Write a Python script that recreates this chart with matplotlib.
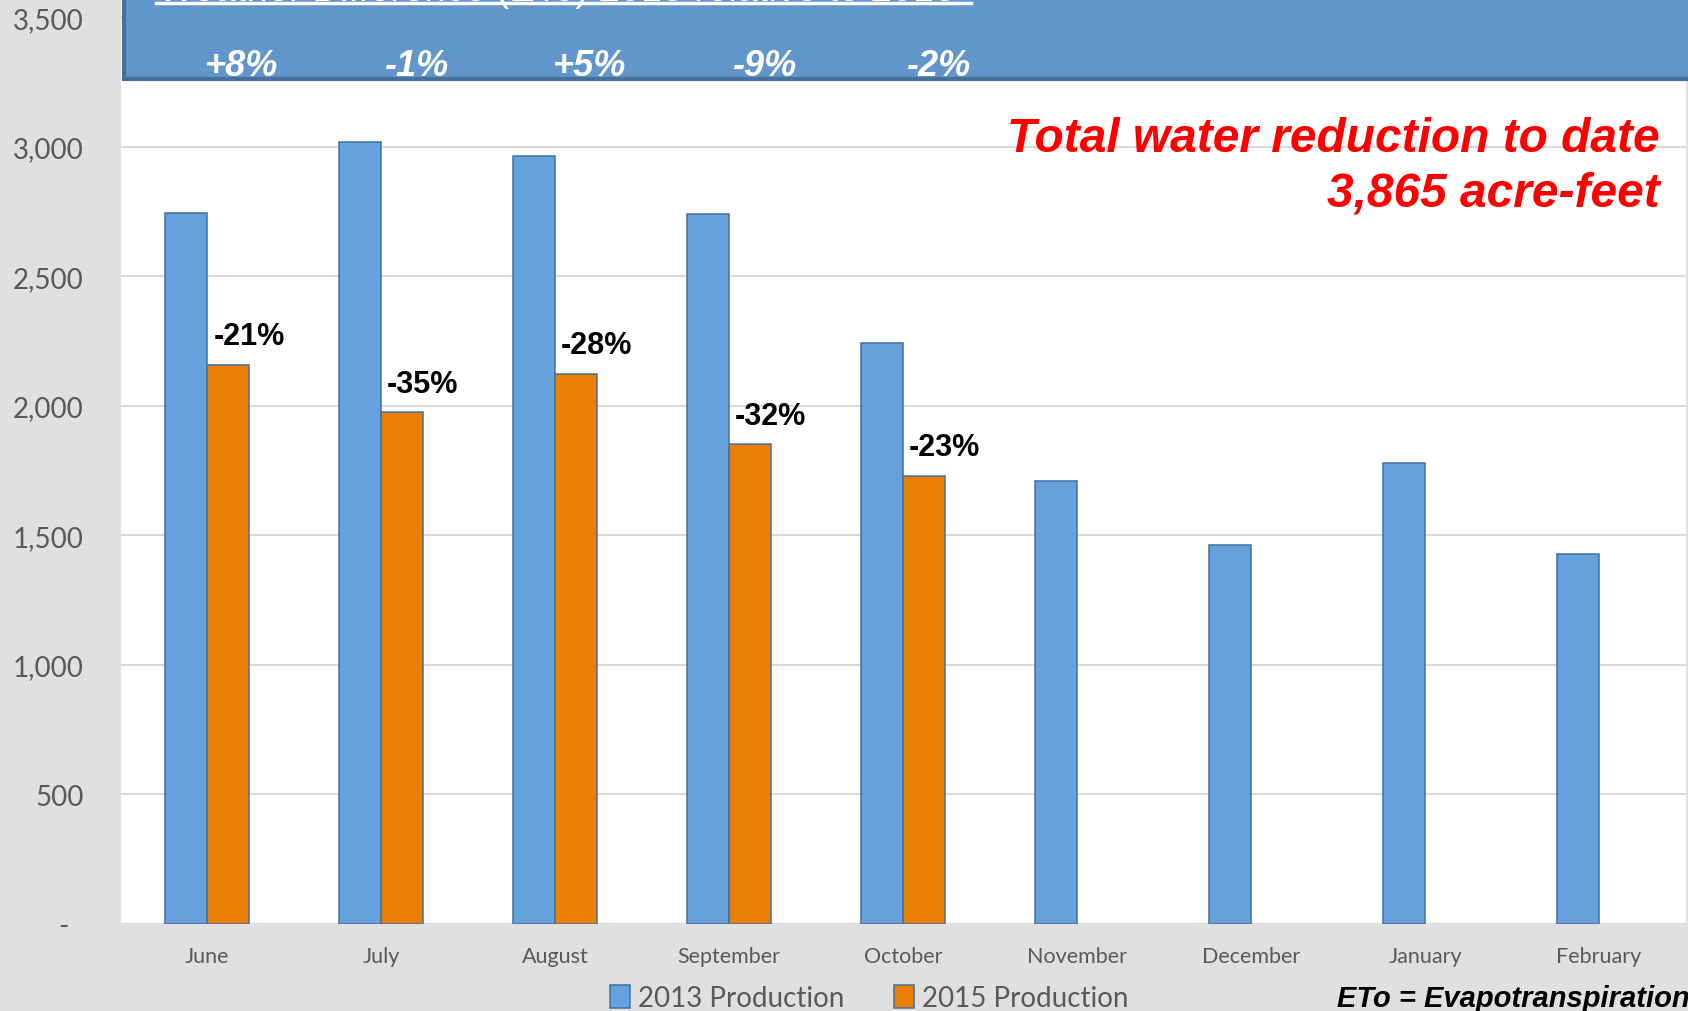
import numpy as np
import matplotlib.pyplot as plt
from matplotlib.patches import Rectangle
from matplotlib.lines import Line2D
import matplotlib.transforms as mtransforms

# data
months = ['June', 'July', 'August', 'September', 'October',
          'November', 'December', 'January', 'February']
prod_2013 = [2743, 3017, 2963, 2739, 2241, 1710, 1461, 1780, 1427]
prod_2015 = [2158, 1975, 2124, 1851, 1730]
pct_labels = ['-21%', '-35%', '-28%', '-32%', '-23%']
eto_labels = ['+8%', '-1%', '+5%', '-9%', '-2%']
yticks = [0, 500, 1000, 1500, 2000, 2500, 3000, 3500]
ytick_labels = ['-  ', '500', '1,000', '1,500', '2,000', '2,500', '3,000', '3,500']

blue = '#65A1DD'
orange = '#EA7F05'
edge = '#41719C'
bg = '#E0E0E0'

fig = plt.figure(figsize=(16.88, 10.12), dpi=100, facecolor=bg)
ax = fig.add_axes([121 / 1688, 87 / 1012, 1565 / 1688, 925 / 1012])
ax.set_facecolor('white')

x = np.arange(len(months))
w = 0.24
ax.bar(x - w / 2, prod_2013, width=w, color=blue, edgecolor=edge, linewidth=1.1,
       label='2013 Production', zorder=3)
ax.bar(x[:len(prod_2015)] + w / 2, prod_2015, width=w, color=orange, edgecolor=edge,
       linewidth=1.1, label='2015 Production', zorder=3)

# percent change labels above the 2015 bars
for i, (v, t) in enumerate(zip(prod_2015, pct_labels)):
    ax.text(i + w, v + 110, t, ha='center', va='center', fontsize=22,
            fontweight='bold', family='Liberation Sans', color='black', zorder=5)

ax.set_xlim(-0.495, 8.5)
ax.set_ylim(0, 3570)
ax.set_yticks(yticks)
ax.set_yticklabels(ytick_labels)
ax.set_xticks(x)
ax.set_xticklabels(months)
ax.tick_params(axis='y', length=0, pad=27, labelsize=20, labelcolor='#595959')
ax.tick_params(axis='x', length=0, pad=16, labelsize=15.5, labelcolor='#595959')
for lab in ax.get_xticklabels() + ax.get_yticklabels():
    lab.set_family('Lato')
ax.grid(axis='y', color='#D9D9D9', linewidth=1.5, zorder=0)
for s in ax.spines.values():
    s.set_visible(False)

# ETo banner across the top (its title runs off the top of the picture)
box = Rectangle((124 / 1688, 1 - 80 / 1012), 1.0, 0.2, transform=fig.transFigure,
                facecolor='#6096CA', edgecolor='#45709C', linewidth=3, zorder=10)
fig.add_artist(box)
fig.text(158 / 1688, 1 - 1 / 1012, 'Weather Difference (ETo) 2015 relative to 2013',
         ha='left', va='baseline', fontsize=27.5, color='white',
         family='Liberation Sans', zorder=11)
fig.add_artist(Line2D([156 / 1688, 971 / 1688], [1 - 4 / 1012, 1 - 4 / 1012],
                      transform=fig.transFigure, color='white', linewidth=2.5, zorder=11))
trans = mtransforms.blended_transform_factory(ax.transData, fig.transFigure)
for i, t in enumerate(eto_labels):
    fig.text(i + 0.2, 1 - 76 / 1012, t, transform=trans, ha='center', va='baseline',
             fontsize=26, fontweight='bold', style='italic', color='white',
             family='Liberation Sans', zorder=12)

# total reduction callout
ax.text(1660 / 1688, 1 - 152 / 1012, 'Total water reduction to date',
        transform=fig.transFigure, ha='right', va='baseline', fontsize=34.5,
        fontweight='bold', style='italic', color='#FF0000', family='Liberation Sans')
ax.text(1660 / 1688, 1 - 207 / 1012, '3,865 acre-feet',
        transform=fig.transFigure, ha='right', va='baseline', fontsize=34.5,
        fontweight='bold', style='italic', color='#FF0000', family='Liberation Sans')

leg = fig.legend(loc='center', bbox_to_anchor=(0.515, 0.013), ncol=2, frameon=False,
                 handlelength=0.7, handleheight=0.9, handletextpad=0.3,
                 columnspacing=1.8, prop={'family': 'Lato', 'size': 20})
for t in leg.get_texts():
    t.set_color('#595959')

fig.text(1337 / 1688, 0.013, 'ETo = Evapotranspiration', ha='left', va='center',
         fontsize=21, fontweight='bold', style='italic', color='black',
         family='Liberation Sans')

fig.savefig('out.png', dpi=100, facecolor=bg)
